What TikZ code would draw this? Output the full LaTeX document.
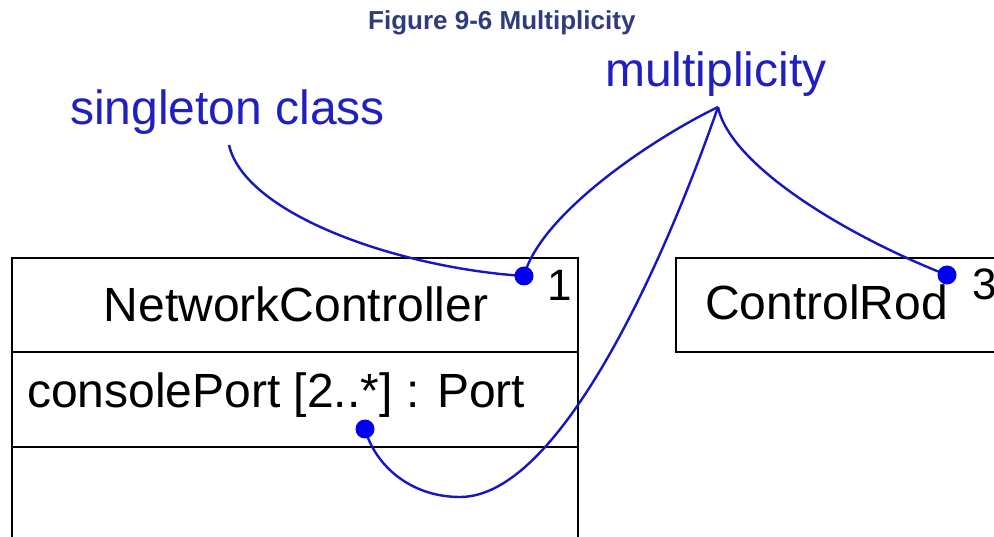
\documentclass[tikz,border=0pt]{standalone}
\usepackage{fontspec}
\setmainfont{Liberation Sans}
\definecolor{titleblue}{RGB}{46,61,122}
\definecolor{labelblue}{RGB}{32,32,190}
\definecolor{connblue}{RGB}{22,22,195}
\definecolor{dotblue}{RGB}{0,0,240}
\begin{document}
\begin{tikzpicture}[x=1pt,y=-1pt,
  txt/.style={inner sep=0pt, anchor=base west, font=\fontsize{48}{56}\selectfont},
  numtxt/.style={inner sep=0pt, anchor=base west, font=\fontsize{44}{50}\selectfont},
  lbl/.style={txt, text=labelblue},
  compart/.style={draw=black, line width=2.2pt, inner sep=0pt, anchor=north west},
  conn/.style={draw=connblue, line width=2.4pt},
  dotmark/.style={circle, fill=dotblue, inner sep=0pt, minimum size=19pt}]
\useasboundingbox (0,0) rectangle (994,537);
\fill[white] (0,0) rectangle (994,537);
\clip (0,0) rectangle (994,537);

% title
\node[inner sep=0pt, anchor=base west, text=titleblue, font=\fontsize{26}{30}\selectfont\bfseries] (title) at (368,30) {Figure 9-6 Multiplicity};

% labels
\node[lbl] (mult) at (605,87) {multiplicity};
\node[lbl] (single) at (70,125) {singleton class};
\coordinate (mpt) at (718,107);
\coordinate (spt) at (229,145);

% NetworkController class
\node[compart, minimum width=566pt, minimum height=94pt] (ncname) at (11,257) {};
\node[compart, minimum width=566pt, minimum height=95pt] (ncattr) at (11,351) {};
\node[compart, minimum width=566pt, minimum height=120pt] (ncops) at (11,446) {};
\node[txt, anchor=base] (nctext) at (296,322) {NetworkController};
\node[txt] (attrtext) at (27,407) {consolePort [2..*] : Port};

% ControlRod class
\node[compart, minimum width=340pt, minimum height=94pt] (crname) at (675,257) {};
\node[txt] (crtext) at (705,320) {ControlRod};

% multiplicities
\node[numtxt] (one) at (547,301) {1};
\node[numtxt] (three) at (972,300) {3};

% dots
\coordinate (d1) at (524,276);
\coordinate (d2) at (365,429);
\coordinate (d3) at (947,275);
\coordinate (bot) at (460,497);

% connectors
\draw[conn] (spt) .. controls (245,215) and (400,268) .. (d1);
\draw[conn] (mpt) .. controls (650,140) and (540,215) .. (d1);
\draw[conn] (mpt) .. controls (730,165) and (845,235) .. (d3);
\draw[conn] (mpt) .. controls (665,260) and (560,497) .. (bot)
                  .. controls (410,497) and (375,465) .. (d2);

\node[dotmark] (dot1) at (d1) {};
\node[dotmark] (dot2) at (d2) {};
\node[dotmark] (dot3) at (d3) {};
\end{tikzpicture}
\end{document}
